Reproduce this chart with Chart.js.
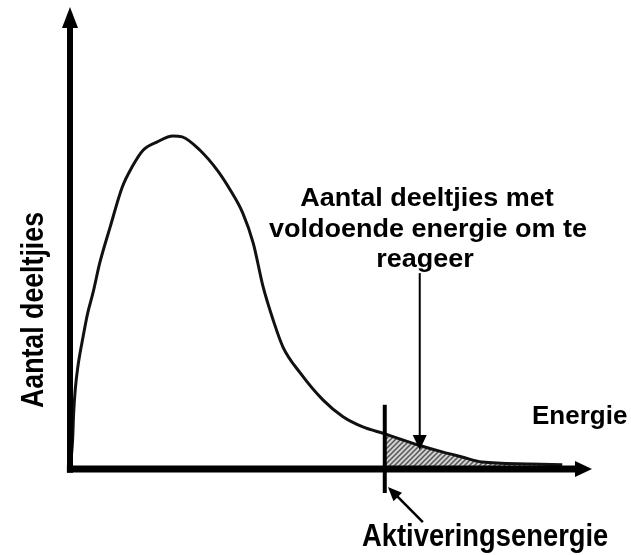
<!DOCTYPE html>
<html>
<head>
<meta charset="utf-8">
<script src="https://cdn.jsdelivr.net/npm/chart.js@4.4.0/dist/chart.umd.min.js"></script>
<style>
  html, body { margin: 0; padding: 0; background: #fff; }
</style>
</head>
<body>
<canvas id="mbChart" width="631" height="555"></canvas>
<script>
// energie (x) en aantal deeltjies (y), afgelees van die figuur
var energy = [0, 0.5, 0.7, 1.0, 1.5, 2.5, 3.4, 4.4, 5.7, 7.7, 10.0, 11.9, 14.0, 16.7, 19.7, 21.5, 24.9,
    28.2, 30.7, 33.1, 35.1, 37.0, 38.9, 40.8, 44.1, 48.5, 52.3, 56.1, 60.3, 66.7, 71.3, 75.1, 78.9, 88.1, 94.3];
var particleCount = [0, 6.3, 12.1, 17.1, 22.1, 28.6, 33.8, 38.1, 44.6, 52.4, 61.0, 65.4, 69.0, 70.8, 72.1, 71.9, 69.0,
    64.7, 60.4, 55.4, 48.9, 39.4, 32.3, 26.4, 20.8, 14.9, 11.3, 9.1, 7.6, 5.2, 3.7, 2.6, 1.5, 1.1, 0.9];
// aktiveringsenergie
var activationEnergy = 60.3;

var yTitle = 'Aantal deeltjies';
var xTitle = 'Energie';
var eaTitle = 'Aktiveringsenergie';
var noteLines = ['Aantal deeltjies met', 'voldoende energie om te', 'reageer'];

var curvePoints = energy.map(function (e, i) { return { x: e, y: particleCount[i] }; });
var tailPoints = curvePoints.filter(function (p) { return p.x >= activationEnergy; });

// gestreepte patroon vir die area na die aktiveringsenergie
function makeHatch() {
    var c = document.createElement('canvas');
    c.width = 5; c.height = 5;
    var g = c.getContext('2d');
    g.fillStyle = '#d2d2d2';
    g.fillRect(0, 0, 5, 5);
    g.strokeStyle = '#555';
    g.lineWidth = 1.5;
    g.beginPath();
    g.moveTo(-1, 6); g.lineTo(6, -1);
    g.moveTo(-1, 1); g.lineTo(1, -1);
    g.moveTo(4, 6); g.lineTo(6, 4);
    g.stroke();
    return g.createPattern(c, 'repeat');
}

// pyle, asse en teks
var overlay = {
    id: 'overlay',
    afterDatasetsDraw: function (chart) {
        var ctx = chart.ctx, xs = chart.scales.x, ys = chart.scales.y;
        var X = function (v) { return xs.getPixelForValue(v); };
        var Y = function (v) { return ys.getPixelForValue(v); };

        function arrow(x1, y1, x2, y2, lw, len, half) {
            var a = Math.atan2(y2 - y1, x2 - x1);
            var bx = x2 - len * Math.cos(a), by = y2 - len * Math.sin(a);
            ctx.lineWidth = lw;
            ctx.beginPath(); ctx.moveTo(x1, y1); ctx.lineTo(bx + Math.cos(a), by + Math.sin(a)); ctx.stroke();
            ctx.beginPath();
            ctx.moveTo(x2, y2);
            ctx.lineTo(bx + half * Math.sin(a), by - half * Math.cos(a));
            ctx.lineTo(bx - half * Math.sin(a), by + half * Math.cos(a));
            ctx.closePath(); ctx.fill();
        }

        function label(str, x, y, size, sx, align, rot) {
            ctx.save();
            ctx.translate(x, y);
            if (rot) ctx.rotate(rot);
            ctx.scale(sx, 1);
            ctx.font = 'bold ' + size + 'px "Liberation Sans", Arial, sans-serif';
            ctx.textAlign = align;
            ctx.textBaseline = 'alphabetic';
            ctx.fillText(str, 0, 0);
            ctx.restore();
        }

        ctx.save();
        ctx.fillStyle = '#000';
        ctx.strokeStyle = '#000';
        ctx.lineCap = 'butt';

        // asse
        arrow(X(0), Y(-0.8), X(0), Y(100), 6, 21, 8);
        arrow(X(-0.6), Y(0), X(100), Y(0), 7, 17, 8);

        // aktiveringsenergie lyn
        ctx.lineWidth = 4;
        ctx.beginPath();
        ctx.moveTo(X(activationEnergy), Y(13.9));
        ctx.lineTo(X(activationEnergy), Y(-5.2));
        ctx.stroke();

        // pyltjies
        arrow(X(67), Y(42.4), X(67), Y(4.1), 2, 15, 7);
        arrow(X(67.6), Y(-11.5), X(60.9), Y(-3.9), 2.5, 14, 6);

        // teks
        label(noteLines[0], 427, 206, 25, 1.08, 'center');
        label(noteLines[1], 428, 237, 25, 1.08, 'center');
        label(noteLines[2], 425, 267, 25, 1.08, 'center');
        label(xTitle, 532, 424, 25, 1.04, 'left');
        label(eaTitle, 362, 546, 32, 0.855, 'left');
        label(yTitle, 43, 310, 32, 0.835, 'center', -Math.PI / 2);
        ctx.restore();
    }
};

var chart = new Chart(document.getElementById('mbChart'), {
    type: 'line',
    data: {
        datasets: [{
            label: 'Aantal deeltjies',
            data: curvePoints,
            borderColor: '#111',
            borderWidth: 3,
            pointRadius: 0,
            fill: false,
            cubicInterpolationMode: 'monotone'
        }, {
            label: 'Genoeg energie',
            data: tailPoints,
            borderWidth: 0,
            pointRadius: 0,
            backgroundColor: makeHatch(),
            fill: 'origin',
            cubicInterpolationMode: 'monotone'
        }]
    },
    options: {
        responsive: false,
        animation: false,
        layout: { padding: { left: 70, top: 7, right: 39, bottom: 86 } },
        plugins: { legend: { display: false }, tooltip: { enabled: false } },
        scales: {
            x: { type: 'linear', min: 0, max: 100, display: false },
            y: { type: 'linear', min: 0, max: 100, display: false }
        }
    },
    plugins: [overlay]
});
</script>
</body>
</html>
